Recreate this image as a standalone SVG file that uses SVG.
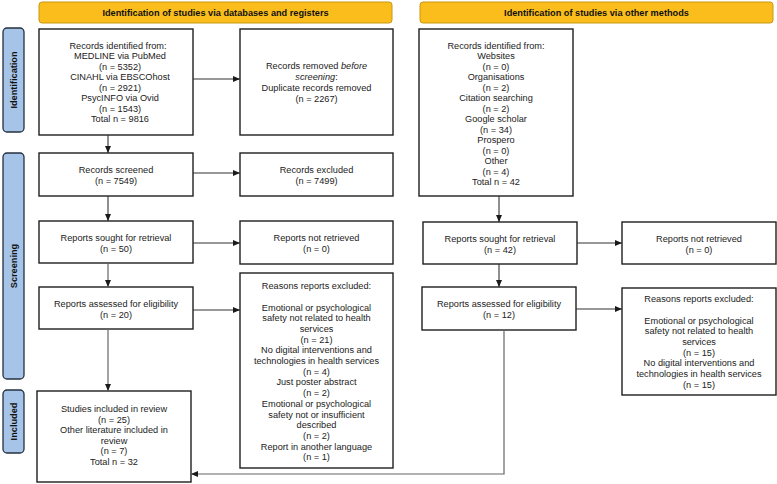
<svg xmlns="http://www.w3.org/2000/svg" width="777" height="484" viewBox="0 0 777 484">
<defs>
<marker id="ah" markerWidth="7" markerHeight="6" refX="7" refY="3" orient="auto" markerUnits="userSpaceOnUse">
<path d="M0,0 L7,3 L0,6 Z" fill="#1a1a1a"/>
</marker>
<style>
.box{fill:#fff;stroke:#1e1e1e;stroke-width:1.4}
.hdr{fill:#fbbd1b;stroke:#c99810;stroke-width:1}
.side{fill:#a6c4e8;stroke:#24313f;stroke-width:1.3}
text{font-family:"Liberation Sans",Arial,sans-serif;font-size:9.2px;fill:#222;text-anchor:middle}
.b{font-weight:bold;fill:#111}
.c{fill:none;stroke:#333;stroke-width:1.1}
.g{fill:none;stroke:#666;stroke-width:1.2}
</style>
</defs>
<rect width="777" height="484" fill="#fff"/>

<g id="header-databases"><rect class="hdr" x="39" y="2" width="353" height="21" rx="3"/><text class="b" x="215.5" y="15.5">Identification of studies via databases and registers</text></g>
<g id="header-other"><rect class="hdr" x="420" y="2" width="353" height="21" rx="3"/><text class="b" x="596.5" y="15.5">Identification of studies via other methods</text></g>

<g id="side-identification"><rect class="side" x="3" y="28" width="21" height="104" rx="4"/><text class="b" transform="translate(16.5,80) rotate(-90)">Identification</text></g>
<g id="side-screening"><rect class="side" x="3" y="153" width="21" height="226" rx="4"/><text class="b" transform="translate(16.5,266) rotate(-90)">Screening</text></g>
<g id="side-included"><rect class="side" x="3" y="390" width="21" height="63" rx="4"/><text class="b" transform="translate(16.5,421.5) rotate(-90)">Included</text></g>

<g id="records-identified"><rect class="box" x="39" y="29" width="154" height="106"/>
<text x="118" y="48.5">Records identified from:</text>
<text x="120" y="59">MEDLINE via PubMed</text>
<text x="120" y="69.5">(n = 5352)</text>
<text x="120" y="80">CINAHL via EBSCOhost</text>
<text x="120" y="90.5">(n = 2921)</text>
<text x="120" y="101">PsycINFO via Ovid</text>
<text x="120" y="111.5">(n = 1543)</text>
<text x="120" y="122">Total n = 9816</text></g>

<g id="records-removed"><rect class="box" x="240" y="29" width="153" height="106"/>
<text x="316.5" y="69">Records removed <tspan font-style="italic">before</tspan></text>
<text x="316.5" y="80"><tspan font-style="italic">screening</tspan>:</text>
<text x="316.5" y="91">Duplicate records removed</text>
<text x="316.5" y="102">(n = 2267)</text></g>

<g id="records-other"><rect class="box" x="419" y="29" width="154" height="167"/>
<text x="496" y="48.5">Records identified from:</text>
<text x="496" y="59">Websites</text>
<text x="496" y="69.5">(n = 0)</text>
<text x="496" y="80">Organisations</text>
<text x="496" y="90.5">(n = 2)</text>
<text x="496" y="101">Citation searching</text>
<text x="496" y="111.5">(n = 2)</text>
<text x="496" y="122">Google scholar</text>
<text x="496" y="132.5">(n = 34)</text>
<text x="496" y="143">Prospero</text>
<text x="496" y="153.5">(n = 0)</text>
<text x="496" y="164">Other</text>
<text x="496" y="174.5">(n = 4)</text>
<text x="496" y="185">Total n = 42</text></g>

<g id="records-screened"><rect class="box" x="39" y="153" width="154" height="43"/>
<text x="116" y="173">Records screened</text><text x="116" y="184">(n = 7549)</text></g>
<g id="records-excluded"><rect class="box" x="240" y="153" width="153" height="43"/>
<text x="316.5" y="173">Records excluded</text><text x="316.5" y="184">(n = 7499)</text></g>

<g id="reports-sought"><rect class="box" x="39" y="221" width="154" height="42"/>
<text x="116" y="240.5">Reports sought for retrieval</text><text x="116" y="251.5">(n = 50)</text></g>
<g id="reports-not-retrieved"><rect class="box" x="240" y="221" width="153" height="43"/>
<text x="316.5" y="241">Reports not retrieved</text><text x="316.5" y="252">(n = 0)</text></g>

<g id="reports-assessed"><rect class="box" x="39" y="287" width="154" height="42"/>
<text x="116" y="306.5">Reports assessed for eligibility</text><text x="116" y="317.5">(n = 20)</text></g>

<g id="reasons-excluded"><rect class="box" x="240" y="273" width="153" height="195"/>
<text x="316.5" y="289">Reasons reports excluded:</text>
<text x="316.5" y="310.5">Emotional or psychological</text>
<text x="316.5" y="321.2">safety not related to health</text>
<text x="316.5" y="331.9">services</text>
<text x="316.5" y="342.6">(n = 21)</text>
<text x="316.5" y="353.3">No digital interventions and</text>
<text x="316.5" y="364">technologies in health services</text>
<text x="316.5" y="374.7">(n = 4)</text>
<text x="316.5" y="385.4">Just poster abstract</text>
<text x="316.5" y="396.1">(n = 2)</text>
<text x="316.5" y="406.8">Emotional or psychological</text>
<text x="316.5" y="417.5">safety not or insufficient</text>
<text x="316.5" y="428.2">described</text>
<text x="316.5" y="438.9">(n = 2)</text>
<text x="316.5" y="449.6">Report in another language</text>
<text x="316.5" y="460.3">(n = 1)</text></g>

<g id="studies-included"><rect class="box" x="37" y="391" width="154" height="91"/>
<text x="114" y="412">Studies included in review</text>
<text x="114" y="422.6">(n = 25)</text>
<text x="114" y="433.2">Other literature included in</text>
<text x="114" y="443.8">review</text>
<text x="114" y="454.4">(n = 7)</text>
<text x="114" y="465">Total n = 32</text></g>

<g id="reports-sought-other"><rect class="box" x="423" y="222" width="154" height="42"/>
<text x="500" y="241.5">Reports sought for retrieval</text><text x="500" y="252.5">(n = 42)</text></g>
<g id="reports-not-retrieved-other"><rect class="box" x="622" y="222" width="154" height="42"/>
<text x="699" y="241.5">Reports not retrieved</text><text x="699" y="252.5">(n = 0)</text></g>
<g id="reports-assessed-other"><rect class="box" x="422" y="287" width="154" height="43"/>
<text x="499" y="307">Reports assessed for eligibility</text><text x="499" y="318">(n = 12)</text></g>
<g id="reasons-excluded-other"><rect class="box" x="622" y="288" width="154" height="107"/>
<text x="699" y="302">Reasons reports excluded:</text>
<text x="699" y="323.5">Emotional or psychological</text>
<text x="699" y="334.2">safety not related to health</text>
<text x="699" y="344.9">services</text>
<text x="699" y="355.6">(n = 15)</text>
<text x="699" y="366.3">No digital interventions and</text>
<text x="699" y="377">technologies in health services</text>
<text x="699" y="387.7">(n = 15)</text></g>

<g id="connectors">
<line class="c" x1="193" y1="79" x2="240" y2="79" marker-end="url(#ah)"/>
<line class="c" x1="108" y1="135" x2="108" y2="153" marker-end="url(#ah)"/>
<line class="c" x1="193" y1="173" x2="240" y2="173" marker-end="url(#ah)"/>
<line class="c" x1="108" y1="196" x2="108" y2="221" marker-end="url(#ah)"/>
<line class="c" x1="193" y1="243" x2="240" y2="243" marker-end="url(#ah)"/>
<line class="g" x1="108" y1="263" x2="108" y2="287" marker-end="url(#ah)"/>
<line class="c" x1="193" y1="310" x2="240" y2="310" marker-end="url(#ah)"/>
<line class="g" x1="108" y1="329" x2="108" y2="391" marker-end="url(#ah)"/>
<line class="c" x1="499" y1="196" x2="499" y2="222" marker-end="url(#ah)"/>
<line class="c" x1="577" y1="243" x2="622" y2="243" marker-end="url(#ah)"/>
<line class="c" x1="499" y1="264" x2="499" y2="287" marker-end="url(#ah)"/>
<line class="c" x1="576" y1="309" x2="622" y2="309" marker-end="url(#ah)"/>
<polyline class="g" points="504,330 504,474 191,474" marker-end="url(#ah)"/>
</g>
</svg>
